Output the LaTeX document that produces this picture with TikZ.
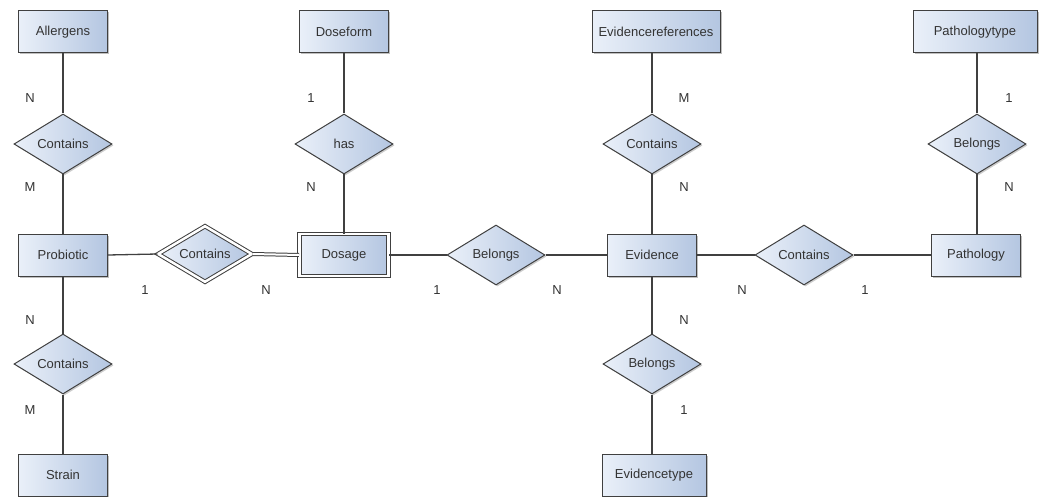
\documentclass[tikz,border=0pt]{standalone}
\usepackage{fontspec}
\setmainfont{Liberation Sans}
\usetikzlibrary{shapes.geometric,shadows}
\tikzset{
  ent/.style={rectangle, draw=black!75, line width=1pt, minimum width=89pt, minimum height=42pt,
    inner sep=0pt, left color=ercL, right color=ercR,
    drop shadow={opacity=0.25, shadow xshift=1.5pt, shadow yshift=-1.5pt, fill=black},
    font=\fontsize{13}{15}\selectfont, text=black!80},
  rel/.style={diamond, draw=black!75, line width=1pt, minimum width=98pt, minimum height=60pt,
    inner sep=0pt, aspect=1.6, left color=ercL, right color=ercR,
    drop shadow={opacity=0.2, shadow xshift=1.5pt, shadow yshift=-1.5pt, fill=black},
    font=\fontsize{13}{15}\selectfont, text=black!80},
  conn/.style={draw=black!75, line width=1.3pt},
  card/.style={font=\fontsize{13}{15}\selectfont, text=black!80, inner sep=0pt}
}
\definecolor{ercL}{HTML}{EAF0F9}
\definecolor{ercR}{HTML}{B4C6E1}
\begin{document}
\begin{tikzpicture}[x=1pt,y=-1pt]
\useasboundingbox (0,0) rectangle (1046,497);
% entities
\node[ent] (allergens) at (63,32) {Allergens};
\node[ent] (probiotic) at (63,255) {Probiotic};
\node[ent] (strain) at (63,475) {Strain};
\node[ent] (doseform) at (344,32) {Doseform};
\node[ent, double, double distance=2.5pt] (dosage) at (344,255) {Dosage};
\node[ent] (evidence) at (652,255) {Evidence};
\node[ent, minimum width=128pt] (evref) at (656,32) {Evidencereferences};
\node[ent, minimum width=104pt] (evtype) at (654,475) {Evidencetype};
\node[ent] (pathology) at (976,255) {Pathology};
\node[ent, minimum width=124pt] (pathtype) at (975,32) {Pathologytype};
% relationships
\node[rel] (r1) at (63,144) {Contains};
\node[rel] (r2) at (63,364) {Contains};
\node[rel, double, double distance=2.5pt, minimum width=94pt, minimum height=56pt] (r3) at (205,254) {Contains};
\node[rel] (r4) at (344,144) {has};
\node[rel] (r5) at (496,255) {Belongs};
\node[rel] (r6) at (652,144) {Contains};
\node[rel] (r7) at (652,364) {Belongs};
\node[rel] (r8) at (804,255) {Contains};
\node[rel] (r9) at (977,144) {Belongs};
% connectors
\draw[conn] (allergens.south) -- (r1.north);
\draw[conn] (r1.south) -- (probiotic.north);
\draw[conn] (probiotic.south) -- (r2.north);
\draw[conn] (r2.south) -- (strain.north);
\draw[conn] (probiotic.east) -- (r3.west);
\draw[conn, double, double distance=2pt, line width=1pt] (r3.east) -- (dosage.west);
\draw[conn] (doseform.south) -- (r4.north);
\draw[conn] (r4.south) -- (dosage.north);
\draw[conn] (dosage.east) -- (r5.west);
\draw[conn] (r5.east) -- (evidence.west);
\draw[conn] (evidence.north) -- (r6.south);
\draw[conn] (r6.north) -- (evidence.north |- evref.south);
\draw[conn] (evidence.south) -- (r7.north);
\draw[conn] (r7.south) -- (r7.south |- evtype.north);
\draw[conn] (evidence.east) -- (r8.west);
\draw[conn] (r8.east) -- (pathology.west);
\draw[conn] (pathology.north -| r9.south) -- (r9.south);
\draw[conn] (r9.north) -- (r9.north |- pathtype.south);
% cardinalities
\node[card] (c1) at (30,98) {N};
\node[card] (c2) at (30,187) {M};
\node[card] (c3) at (30,320) {N};
\node[card] (c4) at (30,410) {M};
\node[card] (c5) at (145,290) {1};
\node[card] (c6) at (266,290) {N};
\node[card] (c7) at (311,98) {1};
\node[card] (c8) at (311,187) {N};
\node[card] (c9) at (437,290) {1};
\node[card] (c10) at (557,290) {N};
\node[card] (c11) at (684,98) {M};
\node[card] (c12) at (684,187) {N};
\node[card] (c13) at (684,320) {N};
\node[card] (c14) at (684,410) {1};
\node[card] (c15) at (742,290) {N};
\node[card] (c16) at (865,290) {1};
\node[card] (c17) at (1009,98) {1};
\node[card] (c18) at (1009,187) {N};
\end{tikzpicture}
\end{document}
